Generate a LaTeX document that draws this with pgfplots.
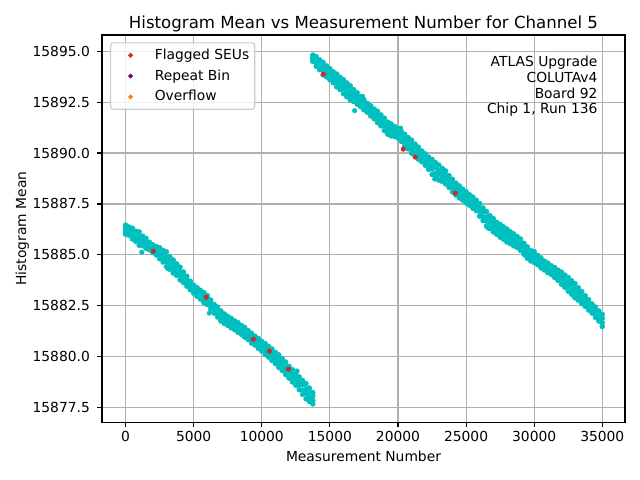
\documentclass[border=0pt]{standalone}
\usepackage{fontspec}
\setmainfont{DejaVu Sans}
\usepackage{pgfplots}
\pgfplotsset{compat=1.18}
\usepackage{pgfplotstable}
\definecolor{cc}{RGB}{0,191,191}
\definecolor{tabred}{RGB}{214,39,40}
\definecolor{mplpurple}{RGB}{128,0,128}
\definecolor{taborange}{RGB}{255,127,14}
\definecolor{gridc}{RGB}{176,176,176}
\definecolor{legc}{RGB}{204,204,204}
\pgfplotstableread{
x a b c d
0 15886.46 15886.30 15886.16 15886.02
250 15886.37 15886.25 15886.07 15885.96
500 15886.31 15886.10 15885.97 15885.78
750 15886.16 15886.02 15885.80 15885.66
1000 15886.13 15885.89 15885.72 15885.47
1250 15885.92 15885.79 15885.60 15885.45
1500 15885.81 15885.63 15885.50 15885.32
1750 15885.62 15885.52 15885.36 15885.25
2000 15885.50 15885.35 15885.25 15885.11
2250 15885.41 15885.29 15885.12 15885.00
2500 15885.35 15885.16 15885.02 15884.81
2750 15885.22 15885.05 15884.82 15884.65
3000 15885.15 15884.88 15884.67 15884.42
3250 15884.91 15884.72 15884.48 15884.29
3500 15884.75 15884.52 15884.34 15884.11
3750 15884.56 15884.39 15884.17 15883.99
4000 15884.40 15884.18 15883.99 15883.77
4250 15884.16 15884.01 15883.80 15883.64
4500 15883.95 15883.77 15883.64 15883.46
4750 15883.71 15883.59 15883.42 15883.29
5000 15883.51 15883.37 15883.26 15883.12
5250 15883.39 15883.24 15883.12 15882.96
5500 15883.26 15883.14 15882.97 15882.83
5750 15883.15 15882.97 15882.83 15882.65
6000 15883.00 15882.86 15882.69 15882.56
6250 15882.78 15882.63 15882.51 15882.35
6500 15882.57 15882.44 15882.27 15882.14
6750 15882.44 15882.26 15882.13 15881.95
7000 15882.25 15882.12 15881.95 15881.79
7250 15882.10 15881.93 15881.80 15881.63
7500 15881.98 15881.85 15881.67 15881.54
7750 15881.89 15881.72 15881.59 15881.42
8000 15881.76 15881.63 15881.46 15881.33
8250 15881.67 15881.50 15881.37 15881.20
8500 15881.54 15881.41 15881.24 15881.11
8750 15881.44 15881.27 15881.14 15880.96
9000 15881.28 15881.15 15880.98 15880.84
9250 15881.15 15880.98 15880.84 15880.67
9500 15881.01 15880.87 15880.70 15880.57
9750 15880.89 15880.72 15880.58 15880.41
10000 15880.75 15880.61 15880.42 15880.28
10250 15880.65 15880.46 15880.30 15880.11
10500 15880.50 15880.34 15880.14 15879.98
10750 15880.38 15880.18 15880.01 15879.81
11000 15880.21 15880.04 15879.83 15879.66
11250 15880.09 15879.87 15879.69 15879.47
11500 15879.91 15879.73 15879.50 15879.32
11750 15879.74 15879.52 15879.34 15879.12
12000 15879.53 15879.35 15879.14 15878.95
12250 15879.36 15879.15 15878.97 15878.76
12500 15879.16 15878.98 15878.77 15878.60
12750 15879.01 15878.79 15878.60 15878.38
13000 15878.83 15878.62 15878.36 15878.15
13250 15878.68 15878.42 15878.19 15877.93
13500 15878.46 15878.25 15878.01 15877.80
13750 15878.24 15878.07 15877.85 15877.68
13750 15894.81 15894.69 15894.61 15894.50
14000 15894.73 15894.56 15894.43 15894.26
14250 15894.57 15894.42 15894.24 15894.09
14500 15894.45 15894.23 15894.06 15893.84
14750 15894.28 15894.11 15893.91 15893.74
15000 15894.15 15893.95 15893.80 15893.60
15250 15893.99 15893.82 15893.62 15893.45
15500 15893.88 15893.66 15893.47 15893.25
15750 15893.72 15893.53 15893.31 15893.12
16000 15893.60 15893.36 15893.16 15892.91
16250 15893.44 15893.23 15892.97 15892.76
16500 15893.30 15893.06 15892.85 15892.61
16750 15893.12 15892.93 15892.71 15892.53
17000 15892.96 15892.76 15892.60 15892.40
17250 15892.77 15892.62 15892.43 15892.28
17500 15892.62 15892.44 15892.30 15892.12
17750 15892.44 15892.31 15892.13 15892.00
18000 15892.32 15892.14 15892.00 15891.82
18250 15892.16 15892.01 15891.83 15891.68
18500 15892.05 15891.85 15891.69 15891.49
18750 15891.87 15891.70 15891.50 15891.33
19000 15891.71 15891.49 15891.32 15891.10
19250 15891.52 15891.34 15891.11 15890.92
19500 15891.43 15891.22 15891.06 15890.84
19750 15891.30 15891.15 15890.96 15890.81
20000 15891.21 15891.04 15890.90 15890.73
20250 15891.05 15890.90 15890.71 15890.57
20500 15890.92 15890.72 15890.56 15890.36
20750 15890.76 15890.59 15890.37 15890.20
21000 15890.63 15890.40 15890.22 15889.99
21250 15890.44 15890.26 15890.04 15889.86
21500 15890.29 15890.08 15889.91 15889.70
21750 15890.10 15889.94 15889.73 15889.57
22000 15889.96 15889.76 15889.60 15889.40
22250 15889.80 15889.61 15889.39 15889.20
22500 15889.69 15889.43 15889.22 15888.95
22750 15889.53 15889.29 15889.01 15888.77
23000 15889.41 15889.15 15888.93 15888.67
23250 15889.25 15889.05 15888.81 15888.61
23500 15889.12 15888.89 15888.70 15888.48
23750 15888.89 15888.71 15888.49 15888.31
24000 15888.71 15888.49 15888.31 15888.09
24250 15888.52 15888.34 15888.12 15887.94
24500 15888.39 15888.18 15888.01 15887.80
24750 15888.23 15888.06 15887.86 15887.69
25000 15888.10 15887.90 15887.75 15887.55
25250 15887.95 15887.79 15887.60 15887.44
25500 15887.84 15887.64 15887.49 15887.29
25750 15887.68 15887.52 15887.33 15887.17
26000 15887.52 15887.30 15887.13 15886.90
26250 15887.30 15887.11 15886.87 15886.68
26500 15887.13 15886.87 15886.66 15886.41
26750 15886.93 15886.73 15886.49 15886.29
27000 15886.78 15886.55 15886.36 15886.13
27250 15886.60 15886.42 15886.19 15886.01
27500 15886.50 15886.28 15886.09 15885.87
27750 15886.37 15886.18 15885.96 15885.77
28000 15886.27 15886.04 15885.86 15885.63
28250 15886.13 15885.95 15885.73 15885.55
28500 15886.03 15885.82 15885.65 15885.44
28750 15885.90 15885.73 15885.53 15885.36
29000 15885.78 15885.58 15885.42 15885.22
29250 15885.57 15885.41 15885.21 15885.05
29500 15885.39 15885.19 15885.04 15884.83
29750 15885.21 15885.06 15884.85 15884.70
30000 15885.16 15884.97 15884.82 15884.63
30250 15884.98 15884.84 15884.66 15884.52
30500 15884.85 15884.67 15884.54 15884.36
30750 15884.69 15884.56 15884.39 15884.26
31000 15884.60 15884.43 15884.30 15884.13
31250 15884.47 15884.34 15884.17 15884.04
31500 15884.38 15884.20 15884.07 15883.89
31750 15884.25 15884.10 15883.90 15883.75
32000 15884.16 15883.95 15883.77 15883.56
32250 15884.01 15883.82 15883.60 15883.41
32500 15883.89 15883.66 15883.46 15883.22
32750 15883.73 15883.53 15883.28 15883.07
33000 15883.59 15883.35 15883.15 15882.89
33250 15883.38 15883.20 15882.97 15882.77
33500 15883.20 15882.99 15882.81 15882.60
33750 15882.99 15882.82 15882.62 15882.47
34000 15882.80 15882.62 15882.47 15882.29
34250 15882.59 15882.45 15882.28 15882.14
34500 15882.44 15882.26 15882.11 15881.93
34750 15882.25 15882.10 15881.90 15881.75
35000 15882.08 15881.89 15881.67 15881.48
}\band

\begin{document}
\begin{tikzpicture}
\useasboundingbox (0,0) rectangle (6.4in,4.8in);
\begin{axis}[
  at={(1.02in,0.577in)}, anchor=south west,
  width=5.23in, height=3.873in, scale only axis,
  xmin=-1730, xmax=36670, ymin=15876.78, ymax=15895.795,
  xtick={0,5000,10000,15000,20000,25000,30000,35000},
  ytick={15877.5,15880,15882.5,15885,15887.5,15890,15892.5,15895},
  scaled ticks=false,
  /pgf/number format/assume math mode=true,
  xticklabel style={/pgf/number format/1000 sep={}, anchor=base, yshift=-10.47pt},
  yticklabel style={/pgf/number format/.cd, fixed, fixed zerofill, precision=1, 1000 sep={}, /tikz/.cd, anchor=east, inner sep=0pt, xshift=-5.1pt},
  ticklabel style={font=\fontsize{10}{12}\selectfont},
  tick align=outside, tick pos=left,
  major tick length=3.5pt,
  tick style={line width=0.8pt, black},
  axis line style={line width=0.8pt},
  grid=major,
  major grid style={line width=0.8pt, color=gridc},
  every axis title shift=0pt,
  title={Histogram Mean vs Measurement Number for Channel 5},
  title style={at={(axis description cs:0.5,1.0165)}, anchor=base, inner sep=0pt, font=\fontsize{12}{14.4}\selectfont},
  xlabel={Measurement Number},
  xlabel style={at={(axis description cs:0.5,-0.1017)}, anchor=base, inner sep=0pt, font=\fontsize{10}{12}\selectfont},
  ylabel={Histogram Mean},
  ylabel style={at={(axis description cs:-0.1453,0.5)}, anchor=base, inner sep=0pt, font=\fontsize{10}{12}\selectfont},
  legend cell align=left,
  legend style={at={(axis description cs:0.0153,0.9812)}, anchor=north west,
    draw=legc, line width=0.8pt, rounded corners=2pt, fill=white, fill opacity=0.8, draw opacity=1, text opacity=1,
    inner xsep=4pt, inner ysep=4pt, row sep=5pt, column sep=7.1pt,
    nodes={inner sep=0pt, text height=8pt, text depth=2pt},
    font=\fontsize{10}{12}\selectfont},
]
\addplot[only marks, mark=*, mark size=1.75pt, color=cc, forget plot] table[x=x, y=a] {\band};
\addplot[only marks, mark=*, mark size=1.75pt, color=cc, forget plot] table[x=x, y=b] {\band};
\addplot[only marks, mark=*, mark size=1.75pt, color=cc, forget plot] table[x=x, y=c] {\band};
\addplot[only marks, mark=*, mark size=1.75pt, color=cc, forget plot] table[x=x, y=d] {\band};
\addplot[only marks, mark=*, mark size=1.6pt, color=cc, forget plot] coordinates {(1190,15885.13) (6150,15882.14) (6990,15881.74) (16820,15892.08) (20200,15891.22) (3100,15884.33) (8600,15881.05) (12600,15879.30) (17400,15892.78) (22700,15888.72) (26600,15886.33) (29300,15884.99) (32900,15882.98)};
\addplot[only marks, mark=*, mark size=1.6pt, color=tabred, forget plot] coordinates {
(2040,15885.18) (5910,15882.92) (9380,15880.86) (10560,15880.27) (11950,15879.39)
(14520,15893.87) (20390,15890.19) (21270,15889.80) (24210,15888.03)};
\addlegendimage{legend image code/.code={\fill[tabred, fill opacity=1] (0.139in,0) circle (1.3pt); \path (0,0) (0.278in,0);}}
\addlegendentry{Flagged SEUs}
\addlegendimage{legend image code/.code={\fill[mplpurple, fill opacity=1] (0.139in,0) circle (1.3pt); \path (0,0) (0.278in,0);}}
\addlegendentry{Repeat Bin}
\addlegendimage{legend image code/.code={\fill[taborange, fill opacity=1] (0.139in,0) circle (1.3pt); \path (0,0) (0.278in,0);}}
\addlegendentry{Overflow}
\node[anchor=base east, inner sep=0pt, font=\fontsize{10}{12}\selectfont] at (rel axis cs:0.9478,0.9181) {ATLAS Upgrade};
\node[anchor=base east, inner sep=0pt, font=\fontsize{10}{12}\selectfont] at (rel axis cs:0.9478,0.8779) {COLUTAv4~};
\node[anchor=base east, inner sep=0pt, font=\fontsize{10}{12}\selectfont] at (rel axis cs:0.9478,0.8373) {Board 92};
\node[anchor=base east, inner sep=0pt, font=\fontsize{10}{12}\selectfont] at (rel axis cs:0.9478,0.7978) {Chip 1, Run 136};
\end{axis}
\end{tikzpicture}
\end{document}
